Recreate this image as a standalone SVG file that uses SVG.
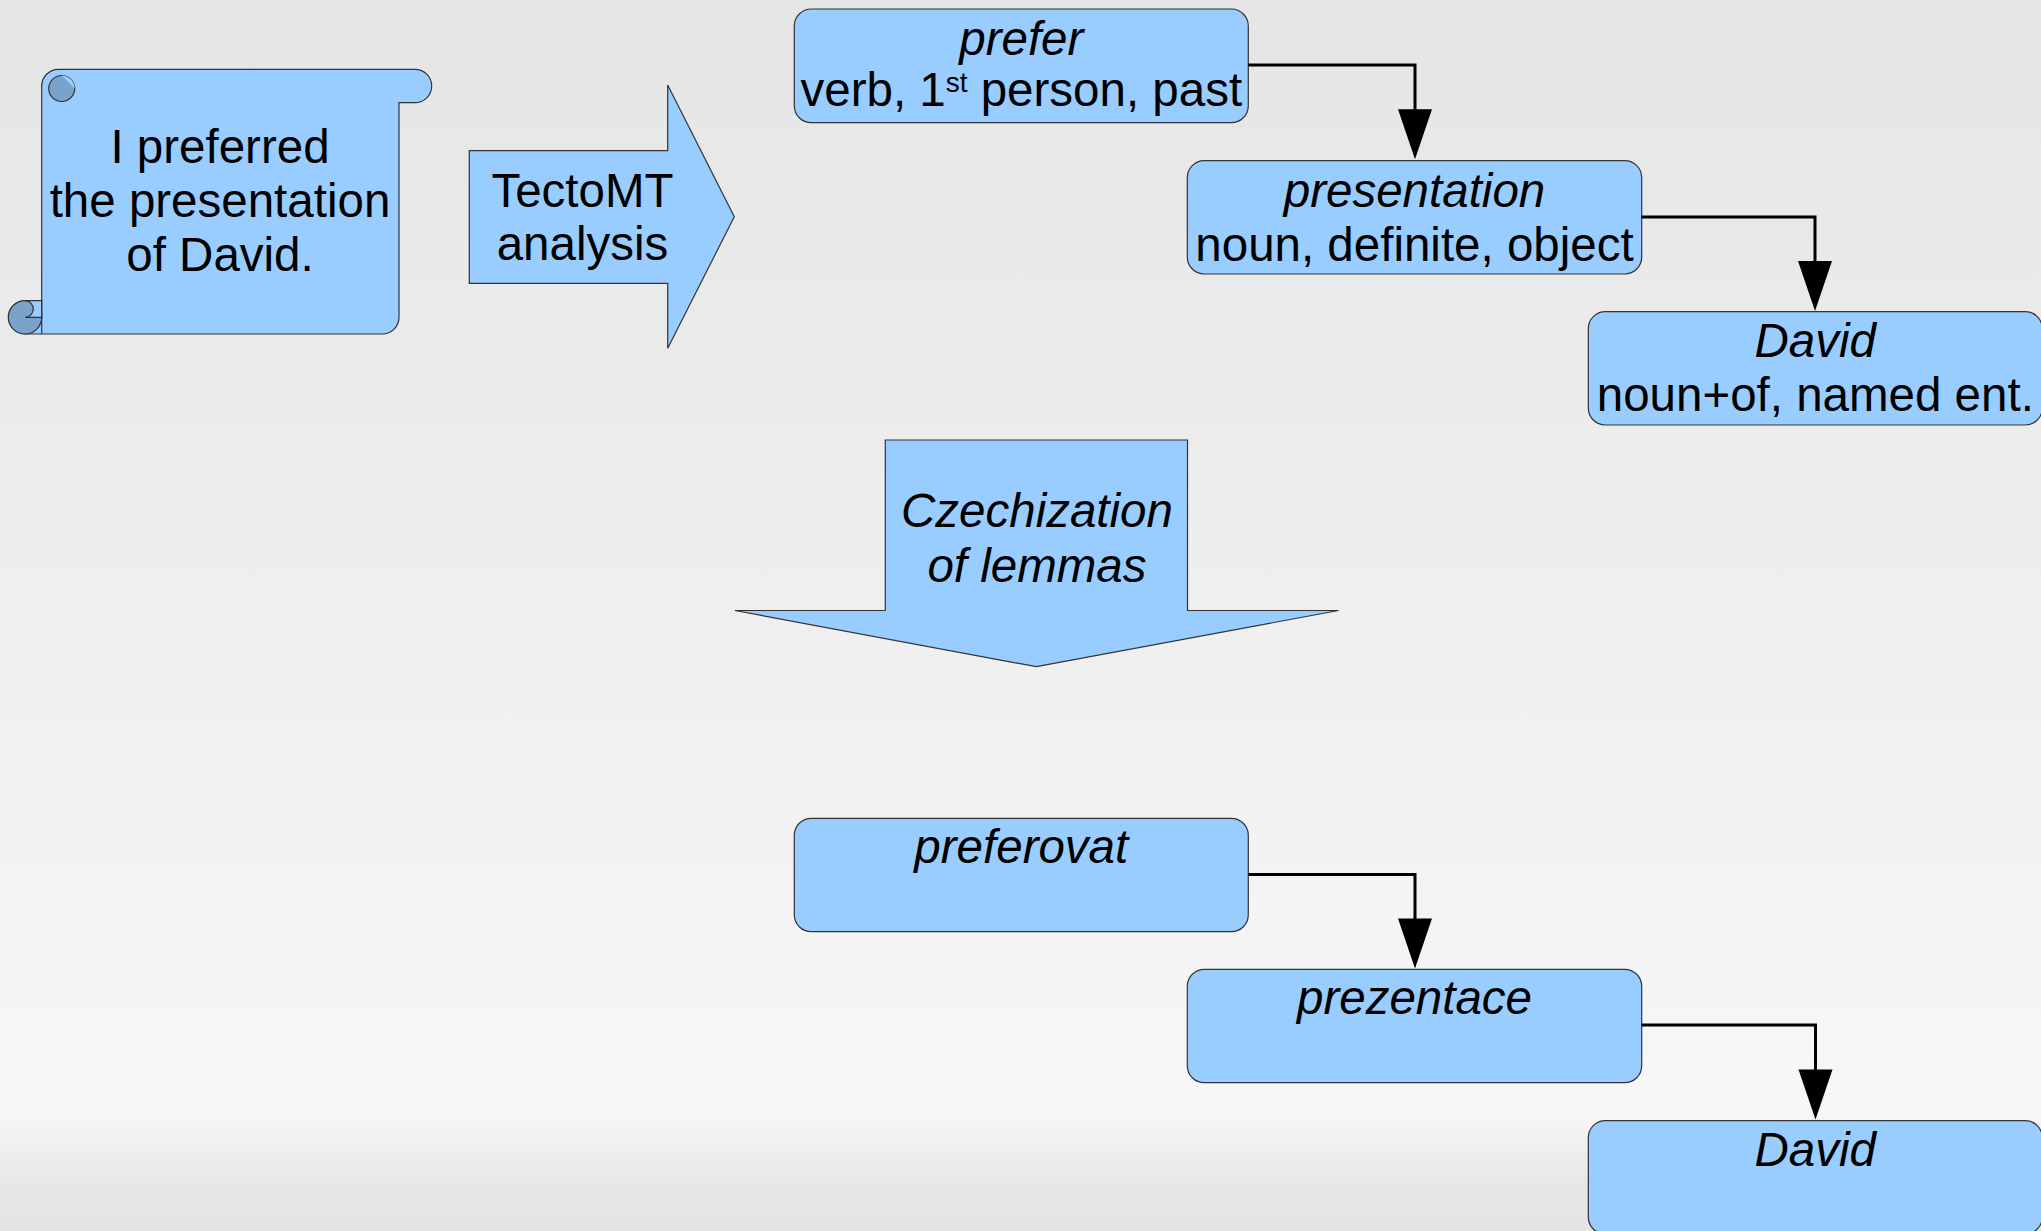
<svg xmlns="http://www.w3.org/2000/svg" width="2041" height="1231" viewBox="0 0 2041 1231">
  <defs>
    <linearGradient id="bg" x1="0" y1="0" x2="0" y2="1">
      <stop offset="0" stop-color="#e5e5e5"/>
      <stop offset="0.905" stop-color="#f7f7f7"/>
      <stop offset="0.965" stop-color="#e6e6e6"/>
      <stop offset="1" stop-color="#e4e4e4"/>
    </linearGradient>
    <marker id="arrow" viewBox="0 0 50 34" refX="5" refY="17" markerWidth="50" markerHeight="34" markerUnits="userSpaceOnUse" orient="auto" overflow="visible">
      <path d="M0,0 L50,17 L0,34 Z" fill="#000"/>
    </marker>
    <style>
      .shape { fill: #99ccff; stroke: #333333; stroke-width: 1.2; }
      .dark { fill: #7aa3cc; stroke: #333333; stroke-width: 1.2; }
      .t { font-family: "Liberation Sans", Arial, sans-serif; font-size: 47.5px; fill: #000; text-anchor: middle; }
      .i { font-style: italic; }
      .conn { fill: none; stroke: #000; stroke-width: 3; marker-end: url(#arrow); }
    </style>
  </defs>
  <rect x="0" y="0" width="2041" height="1231" fill="url(#bg)"/>

  <g id="scroll">
    <path class="shape" d="M41.7,86 A16.7,16.7 0 0 1 58.3,69.3 L415,69.3 A16.7,16.7 0 0 1 415,102.7 L399,102.7 L399,317.3 A16.7,16.7 0 0 1 382.3,334 L25,334 A16.7,16.7 0 0 1 25,300.7 L41.7,300.7 Z"/>
    <circle class="dark" cx="25" cy="317.3" r="16.7"/>
    <path class="shape" d="M25,300.7 A8.3,8.3 0 0 1 25,317.3 L41.7,317.3 L41.7,300.7 Z"/>
    <line x1="41.7" y1="300.7" x2="41.7" y2="334" stroke="#333" stroke-width="1.2"/>
    <circle class="dark" cx="61.7" cy="88.5" r="13"/>
    <path d="M61.7,75.5 A13,13 0 0 1 74.7,88.5 Z" fill="#99ccff" stroke="none"/>
    <text class="t" x="220" y="163.3">I preferred</text>
    <text class="t" x="220" y="216.7">the presentation</text>
    <text class="t" x="220" y="270.7">of David.</text>
  </g>

  <g id="tectomt">
    <polygon class="shape" points="469.3,150.7 667.7,150.7 667.7,85 734.3,216.7 667.7,348.3 667.7,283.3 469.3,283.3"/>
    <text class="t" x="582.5" y="206.7">TectoMT</text>
    <text class="t" x="582.5" y="260">analysis</text>
  </g>

  <g id="prefer">
    <rect class="shape" x="794.3" y="9" width="454" height="113.7" rx="17" ry="17"/>
    <text class="t i" x="1021.3" y="55">prefer</text>
    <text class="t" x="1021.3" y="106">verb, 1<tspan font-size="28" dy="-14">st</tspan><tspan dy="14"> person, past</tspan></text>
  </g>

  <g id="presentation">
    <rect class="shape" x="1187.3" y="160.7" width="454.4" height="113.3" rx="17" ry="17"/>
    <text class="t i" x="1414.5" y="206.7">presentation</text>
    <text class="t" x="1414.5" y="260.7">noun, definite, object</text>
  </g>

  <g id="david">
    <rect class="shape" x="1588.3" y="311.7" width="454" height="113.3" rx="17" ry="17"/>
    <text class="t i" x="1815.3" y="356.7">David</text>
    <text class="t" x="1815.3" y="410.7">noun+of, named ent.</text>
  </g>

  <g id="czechization">
    <polygon class="shape" points="885.3,440 1187.5,440 1187.5,610.5 1338.5,610.5 1036.4,666.7 735,610.5 885.3,610.5"/>
    <text class="t i" x="1037" y="527.3">Czechization</text>
    <text class="t i" x="1037" y="581.7">of lemmas</text>
  </g>

  <g id="preferovat">
    <rect class="shape" x="794.3" y="818.3" width="454" height="113.4" rx="17" ry="17"/>
    <text class="t i" x="1021.3" y="863.3">preferovat</text>
  </g>

  <g id="prezentace">
    <rect class="shape" x="1187.3" y="969.3" width="454.4" height="113.4" rx="17" ry="17"/>
    <text class="t i" x="1414.5" y="1014">prezentace</text>
  </g>

  <g id="david-cs">
    <rect class="shape" x="1588.3" y="1120.7" width="454" height="113.3" rx="17" ry="17"/>
    <text class="t i" x="1815.3" y="1166">David</text>
  </g>

  <g id="connectors">
    <path class="conn" d="M1248.3,65 H1415 V114.3"/>
    <path class="conn" d="M1641.7,217 H1815 V266"/>
    <path class="conn" d="M1248.3,874.5 H1415 V923.5"/>
    <path class="conn" d="M1641.7,1025 H1815.5 V1074.5"/>
  </g>
</svg>
